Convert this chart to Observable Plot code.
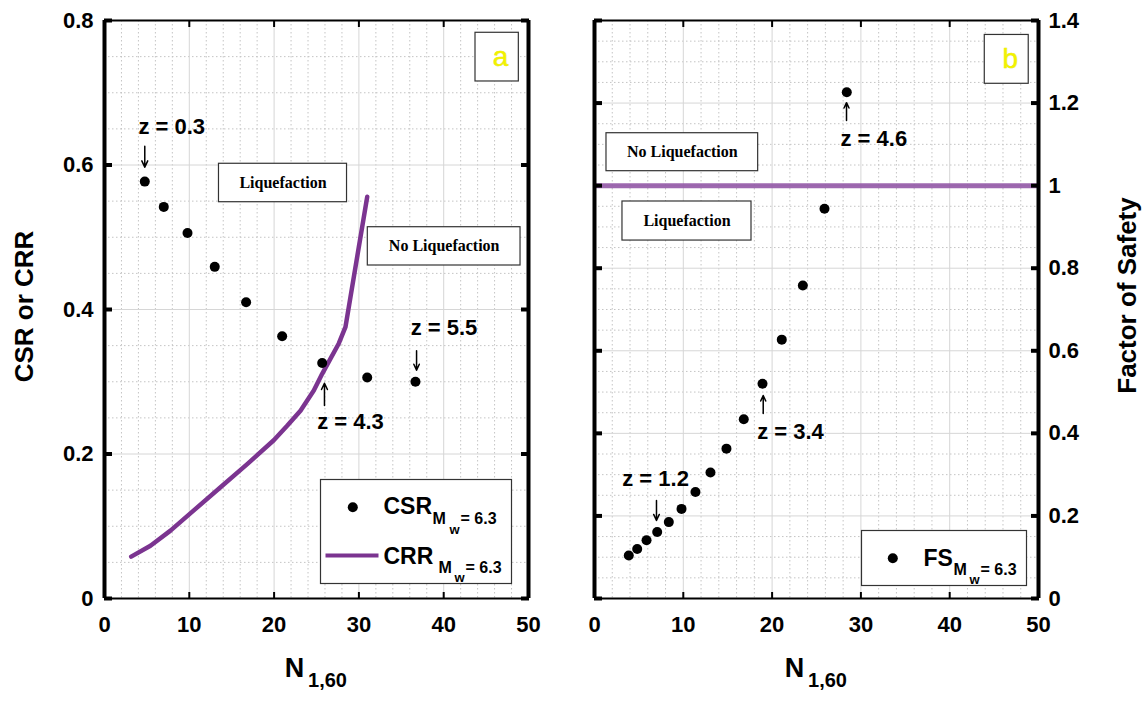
<!DOCTYPE html>
<html><head><meta charset="utf-8">
<script src="https://cdn.jsdelivr.net/npm/d3@7"></script>
<script src="https://cdn.jsdelivr.net/npm/@observablehq/plot@0.6"></script>
<style>
body{margin:0;background:#fff;}
#wrap{position:relative;width:1142px;height:703px;background:#fff;}
#a{position:absolute;left:0;top:0;}
#b{position:absolute;left:560px;top:0;}
</style></head><body><div id="wrap"><div id="a"></div><div id="b"></div></div>
<script>
// ---------- data ----------
const csrN   = [4.75, 6.99, 9.79, 13.0, 16.7, 20.95, 25.67, 30.98, 36.67];
const csrVal = [0.577, 0.542, 0.506, 0.459, 0.410, 0.363, 0.326, 0.306, 0.300];
const crrN   = [3.15, 5.42, 7.78, 10.53, 13.68, 16.83, 19.96, 21.54, 23.11, 24.68, 25.67, 26.65, 27.63, 28.42, 30.98];
const crrVal = [0.058, 0.073, 0.094, 0.122, 0.154, 0.186, 0.219, 0.239, 0.260, 0.288, 0.311, 0.332, 0.353, 0.376, 0.556];
const fsN    = [3.86, 4.81, 5.86, 7.06, 8.37, 9.80, 11.37, 13.06, 14.86, 16.81, 18.92, 21.09, 23.46, 25.90, 28.41];
const fsVal  = [0.104, 0.120, 0.141, 0.161, 0.185, 0.217, 0.258, 0.305, 0.363, 0.434, 0.520, 0.627, 0.758, 0.944, 1.226];
const fsThreshold = [1];

const xTicks  = [0, 10, 20, 30, 40, 50];
const xMinor  = [2,4,6,8,12,14,16,18,22,24,26,28,32,34,36,38,42,44,46,48];
const yTicksA = [0, 0.2, 0.4, 0.6, 0.8];
const yMinorA = [0.05,0.1,0.15,0.25,0.3,0.35,0.45,0.5,0.55,0.65,0.7,0.75];
const yTicksB = [0, 0.2, 0.4, 0.6, 0.8, 1, 1.2, 1.4];
const yMinorB = [0.05,0.1,0.15,0.25,0.3,0.35,0.45,0.5,0.55,0.65,0.7,0.75,0.85,0.9,0.95,1.05,1.1,1.15,1.25,1.3,1.35];

// annotations (data coordinates)
const zLabelsA = [{label:"z = 0.3", n:4.0, v:0.653}, {label:"z = 4.3", n:25.08, v:0.245}, {label:"z = 5.5", n:36.1, v:0.374}];
const zArrowsA = [{n:4.75, from:0.626, to:0.597}, {n:25.94, from:0.267, to:0.298}, {n:36.8, from:0.343, to:0.316}];
const boxesA   = [{label:"Liquefaction", x1:13.5, x2:28.6, y1:0.5485, y2:0.6017},
                  {label:"No Liquefaction", x1:31.05, x2:49.06, y1:0.4609, y2:0.5139}];
const panelA   = [{label:"a", x1:43.75, x2:48.86, y1:0.7156, y2:0.783}];

const zLabelsB = [{label:"z = 4.6", n:27.7, v:1.112}, {label:"z = 3.4", n:18.32, v:0.4045}, {label:"z = 1.2", n:3.12, v:0.2907}];
const zArrowsB = [{n:28.38, from:1.158, to:1.201}, {n:19.0, from:0.448, to:0.4917}, {n:6.98, from:0.2374, to:0.189}];
const boxesB   = [{label:"No Liquefaction", x1:1.35, x2:18.43, y1:1.035, y2:1.127},
                  {label:"Liquefaction", x1:3.15, x2:17.68, y1:0.867, y2:0.9616}];
const panelB   = [{label:"b", x1:43.95, x2:48.9, y1:1.2467, y2:1.365}];

// ---------- tables ----------
const csr = csrN.map((n, i) => ({n, v: csrVal[i]}));
const crr = crrN.map((n, i) => ({n, v: crrVal[i]}));
const fs  = fsN.map((n, i) => ({n, v: fsVal[i]}));

const PURPLE = "#7b3490";
const PURPLE2 = "#9258a6";
const FONT = "Arial, 'Liberation Sans', Helvetica, sans-serif";
const SERIF = "'Liberation Serif', 'Times New Roman', serif";
const fmt = d => `${d}`;
const minorStyle = {stroke:"#c4c4c4", strokeWidth:1, strokeDasharray:"1.5,2.5"};
const majorStyle = {stroke:"#d6d6d6", strokeWidth:1};

function common(yTicks, yMinor) {
  return [
    Plot.ruleX(xMinor, minorStyle),
    Plot.ruleY(yMinor, minorStyle),
    Plot.ruleX(xTicks, majorStyle),
    Plot.ruleY(yTicks, majorStyle)
  ];
}
function frameMarks(yTicks, yMax) {
  return [
    Plot.ruleY([0], {stroke:"black", strokeWidth:2}),
    Plot.ruleY([yMax], {stroke:"black", strokeWidth:2}),
    Plot.ruleX([0], {stroke:"black", strokeWidth:4}),
    Plot.ruleX([50], {stroke:"black", strokeWidth:4}),
    Plot.axisY(yTicks, {anchor:"left", tickSize:8, dx:8, fill:"none", stroke:"black", strokeWidth:4, label:null}),
    Plot.axisY(yTicks, {anchor:"right", tickSize:8, dx:-8, fill:"none", stroke:"black", strokeWidth:4, label:null}),
    Plot.axisX(xTicks, {anchor:"bottom", tickSize:6, dy:-6, fill:"none", stroke:"black", strokeWidth:2, label:null}),
    Plot.axisX(xTicks, {anchor:"top", tickSize:6, dy:6, fill:"none", stroke:"black", strokeWidth:2, label:null}),
    Plot.axisX(xTicks, {anchor:"bottom", tickSize:0, tickPadding:18, fontSize:22, fontWeight:"bold", label:null, tickFormat:fmt})
  ];
}
function boxMarks(boxes, panel) {
  return [
    Plot.rect(boxes, {x1:"x1", x2:"x2", y1:"y1", y2:"y2", fill:"white", stroke:"#333", strokeWidth:1.2}),
    Plot.text(boxes, {x:d => (d.x1 + d.x2) / 2, y:d => (d.y1 + d.y2) / 2, text:"label", fontFamily:SERIF, fontWeight:"bold", fontSize:16, fill:"black"}),
    Plot.rect(panel, {x1:"x1", x2:"x2", y1:"y1", y2:"y2", fill:"white", stroke:"#333", strokeWidth:1.2}),
    Plot.text(panel, {x:d => (d.x1 + d.x2) / 2 + 0.4, y:d => (d.y1 + d.y2) / 2, text:"label", fontFamily:FONT, fontWeight:"normal", fontSize:28, fill:"#f2f200", stroke:"#e0e000", strokeWidth:0.5})
  ];
}
function zMarks(labels, arrows) {
  return [
    Plot.text(labels, {x:"n", y:"v", text:"label", textAnchor:"start", fontSize:22, fontWeight:"bold", fill:"black"}),
    Plot.arrow(arrows, {x:"n", y1:"from", y2:"to", stroke:"black", strokeWidth:1.5, headLength:7, headAngle:50})
  ];
}
function xLabel() {
  return [
    Plot.text(["N"], {frameAnchor:"bottom", textAnchor:"middle", dx:-22, dy:78, fontSize:27, fontWeight:"bold", fill:"black"}),
    Plot.text(["1,60"], {frameAnchor:"bottom", textAnchor:"middle", dx:11, dy:88, fontSize:20, fontWeight:"bold", fill:"black"})
  ];
}
function legendText(parts) {
  return parts.map(([t, dx, dy, fs]) =>
    Plot.text([t], {frameAnchor:"top-left", textAnchor:"start", dx, dy, fontSize:fs, fontWeight:"bold", fill:"black"}));
}

// ---------- panel a ----------
const plotA = Plot.plot({
  width: 560, height: 703,
  marginLeft: 104, marginRight: 32, marginTop: 20, marginBottom: 105,
  x: {domain:[0, 50], axis:null, label:null},
  y: {domain:[0, 0.8], axis:null, label:null},
  style: {fontFamily: FONT, fontSize: "22px", color: "black", background: "white"},
  marks: [
    ...common(yTicksA, yMinorA),
    Plot.line(crr, {x:"n", y:"v", stroke:PURPLE, strokeWidth:4.5}),
    Plot.dot(csr, {x:"n", y:"v", r:5, fill:"black"}),
    ...boxMarks(boxesA, panelA),
    ...zMarks(zLabelsA, zArrowsA),
    // legend
    Plot.frame({fill:"white", stroke:"#333", strokeWidth:1.2, insetLeft:216, insetRight:17, insetTop:459, insetBottom:15}),
    Plot.dot([0], {frameAnchor:"top-left", dx:248.3, dy:486.7, r:5, fill:"black"}),
    Plot.frame({fill:PURPLE, stroke:"none", insetLeft:221, insetRight:150, insetTop:533, insetBottom:41}),
    ...legendText([["CSR", 279, 477, 23], ["M", 328, 492, 16], ["w", 345, 504, 13], ["= 6.3", 356, 492, 16],
                   ["CRR", 279, 527, 23], ["M", 334, 541, 16], ["w", 350, 552, 13], ["= 6.3", 361, 541, 16]]),
    ...frameMarks(yTicksA, 0.8),
    Plot.axisY(yTicksA, {anchor:"left", tickSize:0, tickPadding:11, fontSize:22, fontWeight:"bold", label:null, tickFormat:fmt}),
    ...xLabel(),
    Plot.text(["CSR or CRR"], {frameAnchor:"left", textAnchor:"middle", rotate:-90, dx:-80, dy:-3, fontSize:26, fontWeight:"bold", fill:"black"})
  ]
});
document.getElementById("a").append(plotA);

// ---------- panel b ----------
const plotB = Plot.plot({
  width: 582, height: 703,
  marginLeft: 34, marginRight: 104, marginTop: 20, marginBottom: 105,
  x: {domain:[0, 50], axis:null, label:null},
  y: {domain:[0, 1.4], axis:null, label:null},
  style: {fontFamily: FONT, fontSize: "22px", color: "black", background: "white"},
  marks: [
    ...common(yTicksB, yMinorB),
    Plot.ruleY(fsThreshold, {stroke:PURPLE2, strokeWidth:5, strokeOpacity:0.9}),
    Plot.dot(fs, {x:"n", y:"v", r:5, fill:"black"}),
    ...boxMarks(boxesB, panelB),
    ...zMarks(zLabelsB, zArrowsB),
    // legend
    Plot.frame({fill:"white", stroke:"#333", strokeWidth:1.2, insetLeft:267, insetRight:12, insetTop:510, insetBottom:13}),
    Plot.dot([0], {frameAnchor:"top-left", dx:298.3, dy:537.7, r:5, fill:"black"}),
    ...legendText([["FS", 329, 529, 23], ["M", 359, 543, 16], ["w", 375, 554, 13], ["= 6.3", 386, 543, 16]]),
    ...frameMarks(yTicksB, 1.4),
    Plot.axisY(yTicksB, {anchor:"right", tickSize:0, tickPadding:10, fontSize:22, fontWeight:"bold", label:null, tickFormat:fmt}),
    ...xLabel(),
    Plot.text(["Factor of Safety"], {frameAnchor:"right", textAnchor:"middle", rotate:-90, dx:89, dy:-14, fontSize:26, fontWeight:"bold", fill:"black"})
  ]
});
document.getElementById("b").append(plotB);
</script></body></html>
